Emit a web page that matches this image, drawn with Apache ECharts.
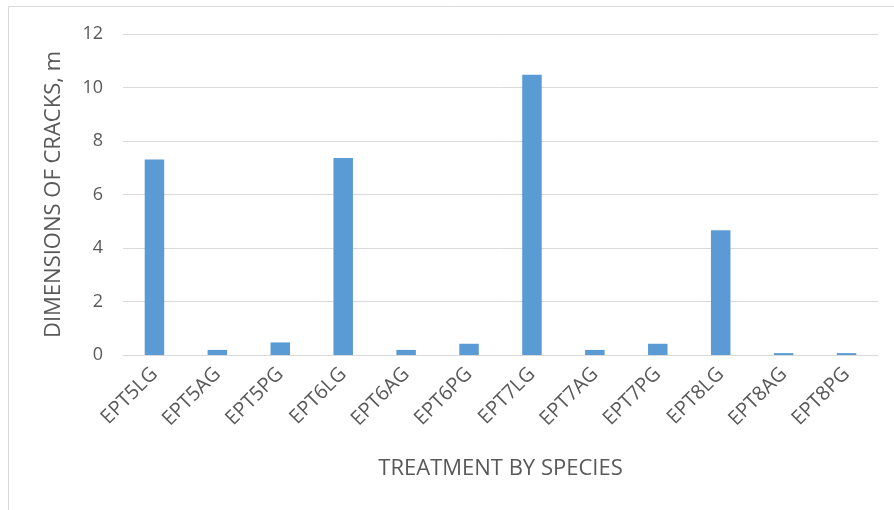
<!DOCTYPE html>
<html>
<head>
<meta charset="utf-8">
<script src="https://cdn.jsdelivr.net/npm/echarts@6/dist/echarts.min.js"></script>
<style>
  html, body { margin: 0; padding: 0; background: #fff; }
  #chart { width: 894px; height: 510px; }
</style>
</head>
<body>
<div id="chart"></div>
<script>
const categories = ['EPT5LG', 'EPT5AG', 'EPT5PG', 'EPT6LG', 'EPT6AG', 'EPT6PG',
  'EPT7LG', 'EPT7AG', 'EPT7PG', 'EPT8LG', 'EPT8AG', 'EPT8PG']
const crackValues = [7.31, 0.19, 0.47, 7.36, 0.19, 0.42, 10.48, 0.19, 0.42, 4.66, 0.07, 0.07]
const yTicks = { min: 0, max: 12, interval: 2 }

const fontFamily = '"Open Sans", "Noto Sans", sans-serif'
const textColor = '#595959'

const chart = echarts.init(document.getElementById('chart'), null, { renderer: 'canvas' })

chart.setOption({
  animation: false,
  backgroundColor: '#fff',
  graphic: [
    {
      type: 'rect',
      shape: { x: 8.5, y: 6.5, width: 900, height: 520 },
      style: { fill: 'none', stroke: '#d9d9d9', lineWidth: 1 },
      silent: true
    }
  ],
  grid: {
    left: 123,
    right: 16,
    top: 34,
    bottom: 155
  },
  xAxis: {
    type: 'category',
    data: categories,
    name: 'TREATMENT BY SPECIES',
    nameLocation: 'middle',
    nameGap: 103,
    nameTextStyle: { color: textColor, fontSize: 22, fontFamily },
    axisLine: { lineStyle: { color: '#d9d9d9', width: 1 } },
    axisTick: { show: false },
    axisLabel: {
      color: textColor,
      fontSize: 20,
      fontFamily,
      rotate: 45,
      interval: 0,
      margin: 16
    }
  },
  yAxis: {
    type: 'value',
    min: yTicks.min,
    max: yTicks.max,
    interval: yTicks.interval,
    name: 'DIMENSIONS OF CRACKS, m',
    nameLocation: 'middle',
    nameGap: 58,
    nameTextStyle: { color: textColor, fontSize: 22, fontFamily },
    axisLine: { show: false },
    axisTick: { show: false },
    axisLabel: { color: textColor, fontSize: 18, fontFamily, margin: 20 },
    splitLine: { lineStyle: { color: '#d9d9d9', width: 1 } }
  },
  series: [
    {
      type: 'bar',
      data: crackValues,
      barWidth: '31%',
      itemStyle: { color: '#5b9bd5' }
    }
  ]
})
</script>
</body>
</html>
